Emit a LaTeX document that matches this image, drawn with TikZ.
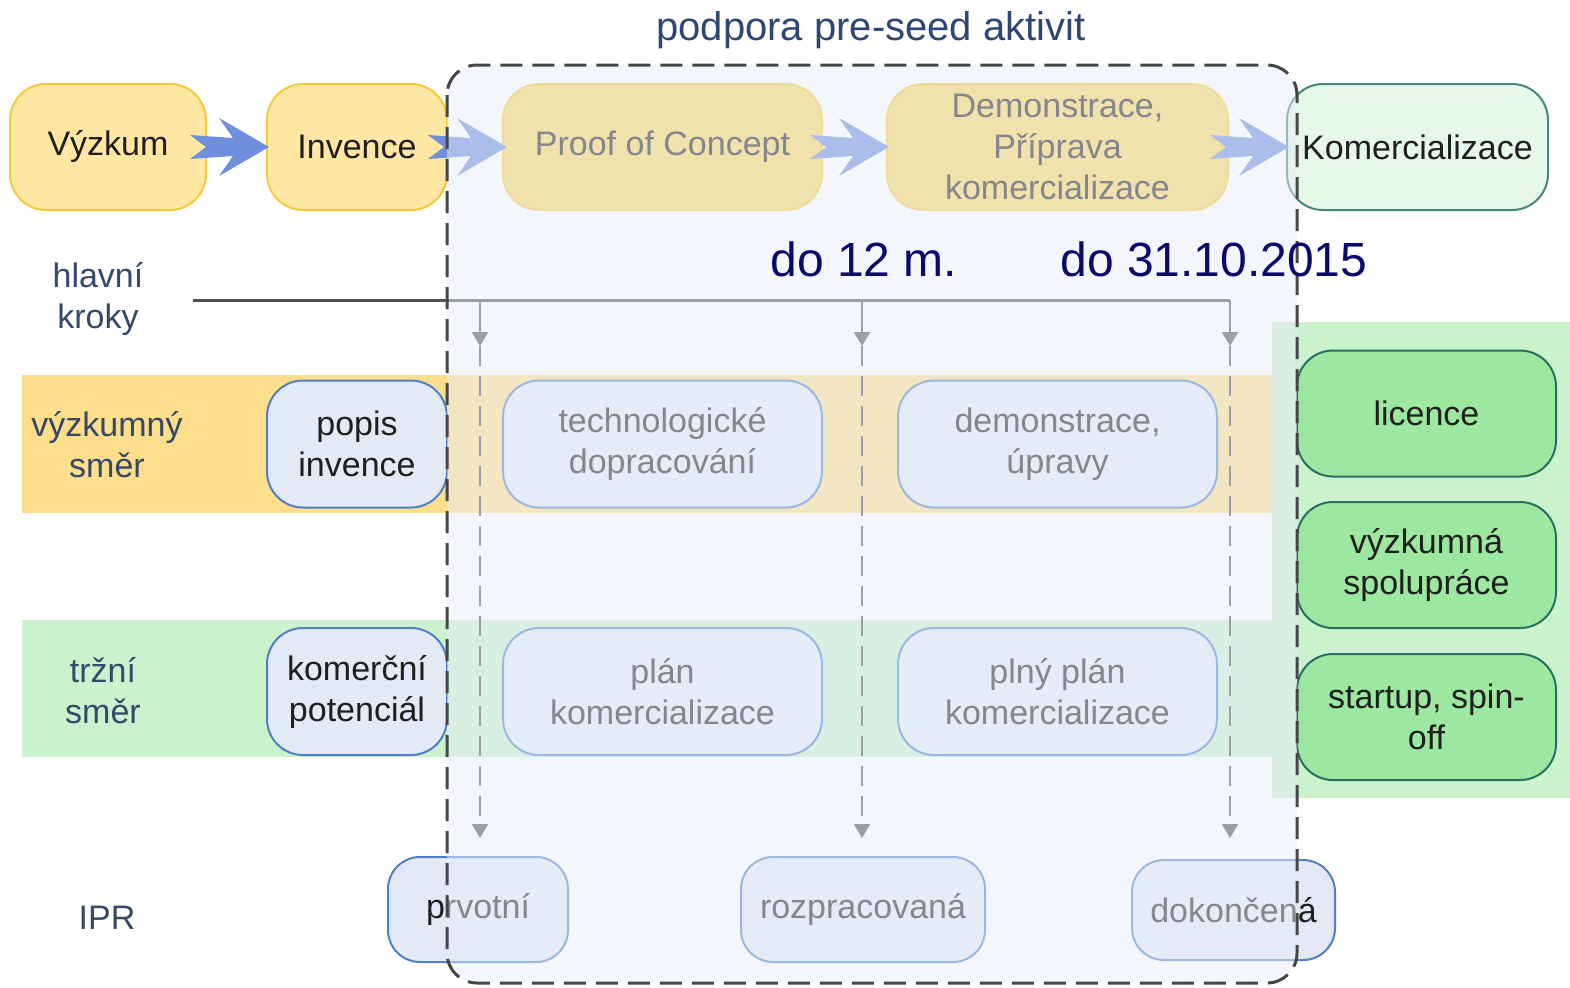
\documentclass[tikz,border=0pt]{standalone}
\usepackage{fontspec}
\setmainfont{Liberation Sans}
\usetikzlibrary{calc,arrows.meta}

\definecolor{zlutabox}{RGB}{254,231,162}
\definecolor{zlutaokraj}{RGB}{248,200,60}
\definecolor{zlutapoc}{RGB}{250,214,94}
\definecolor{zlutapas}{RGB}{253,222,140}
\definecolor{zelenapas}{RGB}{202,242,205}
\definecolor{zelenabox}{RGB}{157,232,160}
\definecolor{zelenaokraj}{RGB}{40,112,100}
\definecolor{komercfill}{RGB}{230,248,232}
\definecolor{modrabox}{RGB}{227,234,246}
\definecolor{modraokraj}{RGB}{80,128,198}
\definecolor{sipka}{RGB}{111,143,220}
\definecolor{zavoj}{RGB}{232,238,250}
\definecolor{popisek}{RGB}{52,72,104}
\definecolor{nadpis}{RGB}{45,70,118}
\definecolor{termin}{RGB}{10,10,110}
\definecolor{cara}{RGB}{78,78,78}

\tikzset{
  krabice/.style={rectangle, rounded corners=18pt, align=center, inner sep=0pt,
    line width=1pt, text=black!88, font=\fontsize{17}{20.5}\selectfont},
  faze/.style={krabice, fill=zlutabox, draw=zlutaokraj, minimum height=63pt},
  fazein/.style={faze, fill=zlutapoc},
  vystup/.style={krabice, fill=modrabox, draw=modraokraj, minimum height=63.5pt},
  ipr/.style={vystup, rounded corners=16pt, minimum height=52.5pt},
  trh/.style={krabice, fill=zelenabox, draw=zelenaokraj, minimum width=129.5pt, minimum height=63pt},
  radek/.style={align=center, text=popisek, font=\fontsize{17}{20.5}\selectfont},
  krokline/.style={draw=cara, line width=1.1pt},
  krokarrow/.style={krokline, -{Triangle[length=7pt,width=8pt]}},
  krokdash/.style={krokarrow, dash pattern=on 10pt off 5pt},
  termin/.style={anchor=west, inner sep=0pt, text=termin, font=\fontsize{24}{28}\selectfont},
  fatarrow/.pic={
    \fill[sipka] (-79,-12) -- (-36,-9) -- (-50,-29) -- (0,0) -- (-50,29)
      -- (-36,9) -- (-79,12) -- (-63,0) -- cycle;
  }
}

\begin{document}
\begin{tikzpicture}[x=0.5pt, y=-0.5pt]
\useasboundingbox (0,0) rectangle (1570,987);

% pasy
\fill[zlutapas] (22,375) rectangle (1272,513);
\fill[zelenapas] (22,620) rectangle (1272,757);
\fill[zelenapas] (1272,322) rectangle (1570,798);

% hlavni kroky
\coordinate (kstart) at (193,300);
\foreach \n/\x in {1/480, 2/862, 3/1230} {
  \coordinate (k\n) at (\x,300);
  \coordinate (m\n) at (\x,346);
  \coordinate (e\n) at (\x,838);
}
\draw[krokline, line width=1.5pt] (kstart) -- (k3);
\foreach \n in {1,2,3} {
  \draw[krokarrow] (k\n) -- (m\n);
  \draw[krokdash] (m\n) -- (e\n);
}

% horni rada
\node[faze, minimum width=98pt] (vyzkum) at (108,147) {Výzkum};
\node[faze, minimum width=90pt] (invence) at (357,147) {Invence};
\node[fazein, minimum width=159.5pt] (poc) at (662.5,147) {Proof of Concept};
\node[fazein, minimum width=170.5pt] (demo) at (1057.5,147) {Demonstrace,\\Příprava\\komercializace};
\node[krabice, fill=komercfill, draw=zelenaokraj!85!white, minimum width=130.5pt, minimum height=63pt]
  (komerc) at (1417.5,147) {Komercializace};

\pic at ($(invence.west)+(3,0)$) {fatarrow};
\pic at ($(poc.west)+(5,0)$) {fatarrow};
\pic at ($(demo.west)+(3,0)$) {fatarrow};
\pic at ($(komerc.west)+(3,0)$) {fatarrow};

% vyzkumny smer
\node[vystup, minimum width=90pt] (popis) at (357,444) {popis\\invence};
\node[vystup, minimum width=159.5pt] (tech) at (662.5,444) {technologické\\dopracování};
\node[vystup, minimum width=159.5pt] (demon) at (1057.5,444) {demonstrace,\\úpravy};

% trzni smer
\node[vystup, minimum width=90pt] (kompot) at (357,691.5) {komerční\\potenciál};
\node[vystup, minimum width=159.5pt] (plan) at (662.5,691.5) {plán\\komercializace};
\node[vystup, minimum width=159.5pt] (plny) at (1057.5,691.5) {plný plán\\komercializace};

% vysledky
\node[trh] (licence) at (1426.5,413.5) {licence};
\node[trh] (spoluprace) at (1426.5,565) {výzkumná\\spolupráce};
\node[trh] (startup) at (1426.5,717) {startup, spin-\\off};

% IPR
\node[ipr, minimum width=90pt] (prvotni) at (478,909.5) {prvotní};
\node[ipr, minimum width=122pt] (rozprac) at (863,909.5) {rozpracovaná};
\node[ipr, minimum width=101.5pt, minimum height=50pt] (dokonc) at (1233.5,910) {dokončená};

% popisky radku
\node[radek] (hlavni) at (98,299) {hlavní\\kroky};
\node[radek] (vsmer) at (107,445) {výzkumný\\směr};
\node[radek] (tsmer) at (103,691) {tržní\\směr};
\node[radek] (iprlabel) at (107,918) {IPR};

% podpora pre-seed
\coordinate (ramecnw) at (447,65);
\coordinate (ramecse) at (1297,983);
\fill[zavoj, opacity=0.5, rounded corners=15pt] (ramecnw) rectangle (ramecse);
\draw[cara!90!black, line width=1.5pt, dash pattern=on 11pt off 5pt, rounded corners=15pt]
  (ramecnw) rectangle (ramecse);
\node[text=nadpis, font=\fontsize{20}{24}\selectfont] (nadpis) at (871,30) {podpora pre-seed aktivit};

\node[termin] (t12) at (770,259) {do 12 m.};
\node[termin] (t15) at (1060,259) {do 31.10.2015};
\end{tikzpicture}
\end{document}
